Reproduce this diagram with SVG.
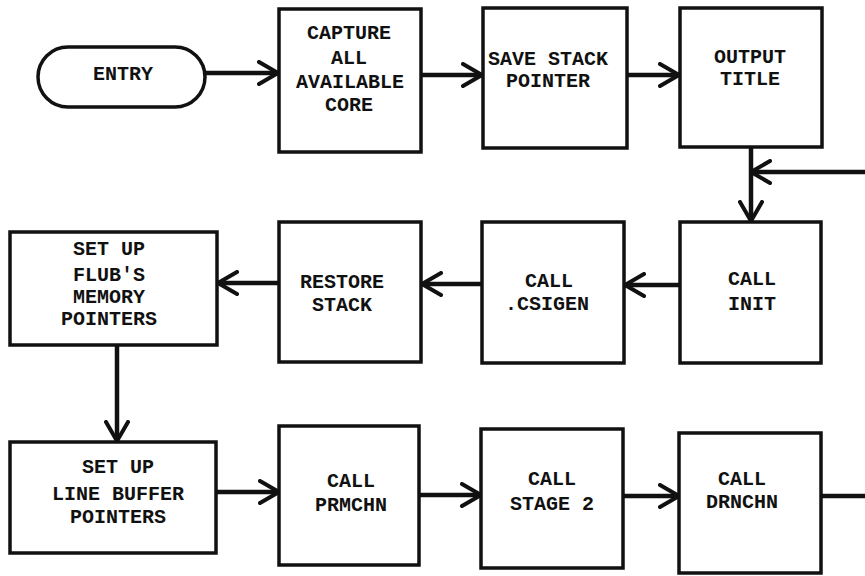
<svg xmlns="http://www.w3.org/2000/svg" width="865" height="576" viewBox="0 0 865 576">
<style>
.box{fill:#fff;stroke:#111;stroke-width:3.5}
.lbl{font-family:"Liberation Mono","DejaVu Sans Mono",monospace;font-weight:bold;font-size:20px;fill:#111;text-anchor:middle}
.conn{fill:none;stroke:#111;stroke-width:4.5}
</style>
<defs>
<marker id="ah" viewBox="0 0 24 26" refX="21" refY="13" markerWidth="24" markerHeight="26" markerUnits="userSpaceOnUse" orient="auto">
<path d="M2,2 L21,13 L2,24" fill="none" stroke="#111" stroke-width="4" stroke-linecap="round" stroke-linejoin="round"/>
</marker>
</defs>
<rect width="865" height="576" fill="#fff"/>
<g id="connectors">
<line class="conn" x1="205" y1="73" x2="278" y2="73" marker-end="url(#ah)"/>
<line class="conn" x1="421" y1="75" x2="482" y2="75" marker-end="url(#ah)"/>
<line class="conn" x1="627" y1="75" x2="679" y2="75" marker-end="url(#ah)"/>
<line class="conn" x1="865" y1="172" x2="751" y2="172" marker-end="url(#ah)"/>
<line class="conn" x1="751" y1="148" x2="751" y2="221" marker-end="url(#ah)"/>
<line class="conn" x1="680" y1="285" x2="625" y2="285" marker-end="url(#ah)"/>
<line class="conn" x1="482" y1="284" x2="422" y2="284" marker-end="url(#ah)"/>
<line class="conn" x1="279" y1="283" x2="218" y2="283" marker-end="url(#ah)"/>
<line class="conn" x1="117" y1="345" x2="117" y2="441" marker-end="url(#ah)"/>
<line class="conn" x1="216" y1="492" x2="279" y2="492" marker-end="url(#ah)"/>
<line class="conn" x1="419" y1="495" x2="481" y2="495" marker-end="url(#ah)"/>
<line class="conn" x1="623" y1="496" x2="679" y2="496" marker-end="url(#ah)"/>
<line class="conn" x1="821" y1="496" x2="865" y2="496"/>
</g>
<g id="entry">
<rect class="box" x="38" y="47" width="167" height="60" rx="30" ry="30"/>
<text class="lbl" x="123" y="80">ENTRY</text>
</g>
<g id="capture">
<rect class="box" x="279" y="9" width="142" height="143"/>
<text class="lbl" x="349" y="39">CAPTURE</text>
<text class="lbl" x="349" y="64">ALL</text>
<text class="lbl" x="350" y="88">AVAILABLE</text>
<text class="lbl" x="349" y="111">CORE</text>
</g>
<g id="savestack">
<rect class="box" x="483" y="8" width="144" height="140"/>
<text class="lbl" x="548" y="65">SAVE STACK</text>
<text class="lbl" x="548" y="87">POINTER</text>
</g>
<g id="outputtitle">
<rect class="box" x="680" y="8" width="142" height="139"/>
<text class="lbl" x="750" y="63">OUTPUT</text>
<text class="lbl" x="750" y="85">TITLE</text>
</g>
<g id="init">
<rect class="box" x="680" y="222" width="141" height="141"/>
<text class="lbl" x="752" y="285">CALL</text>
<text class="lbl" x="752" y="310">INIT</text>
</g>
<g id="csigen">
<rect class="box" x="482" y="222" width="142" height="141"/>
<text class="lbl" x="549" y="287">CALL</text>
<text class="lbl" x="547" y="310">.CSIGEN</text>
</g>
<g id="restore">
<rect class="box" x="279" y="222" width="142" height="140"/>
<text class="lbl" x="342" y="288">RESTORE</text>
<text class="lbl" x="342" y="311">STACK</text>
</g>
<g id="flub">
<rect class="box" x="10" y="232" width="207" height="113"/>
<text class="lbl" x="109" y="255">SET UP</text>
<text class="lbl" x="109" y="281">FLUB'S</text>
<text class="lbl" x="109" y="303">MEMORY</text>
<text class="lbl" x="109" y="325">POINTERS</text>
</g>
<g id="linebuffer">
<rect class="box" x="10" y="442" width="206" height="111"/>
<text class="lbl" x="118" y="473">SET UP</text>
<text class="lbl" x="118" y="500">LINE BUFFER</text>
<text class="lbl" x="118" y="523">POINTERS</text>
</g>
<g id="prmchn">
<rect class="box" x="279" y="426" width="140" height="139"/>
<text class="lbl" x="351" y="487">CALL</text>
<text class="lbl" x="351" y="511">PRMCHN</text>
</g>
<g id="stage2">
<rect class="box" x="481" y="429" width="142" height="139"/>
<text class="lbl" x="552" y="485">CALL</text>
<text class="lbl" x="552" y="510">STAGE 2</text>
</g>
<g id="drnchn">
<rect class="box" x="679" y="433" width="142" height="140"/>
<text class="lbl" x="742" y="485">CALL</text>
<text class="lbl" x="742" y="508">DRNCHN</text>
</g>
</svg>
